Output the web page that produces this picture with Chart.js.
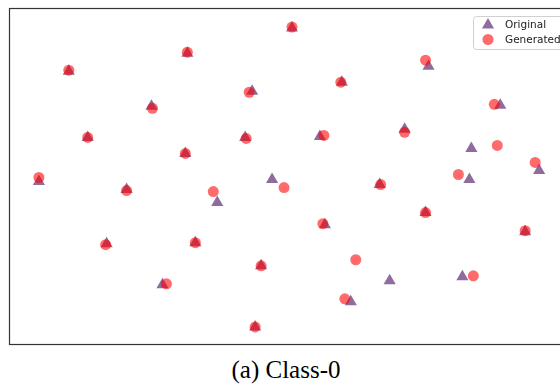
<!DOCTYPE html>
<html>
<head>
<meta charset="utf-8">
<script src="https://cdn.jsdelivr.net/npm/chart.js@4.4.0/dist/chart.umd.min.js"></script>
<style>
  html, body { margin: 0; padding: 0; background: #fff; overflow: hidden; }
  #wrap { position: absolute; left: 0; top: 0; width: 580px; height: 351px; }
  #caption {
    position: absolute; left: 0; top: 356px; width: 572px; text-align: center;
    font-family: "Liberation Serif", "Times New Roman", serif; font-size: 25px; color: #000;
  }
</style>
</head>
<body>
<div id="wrap"><canvas id="scatterChart"></canvas></div>
<div id="caption">(a) Class-0</div>
<script>
// embedding coordinates (x to the right, y downwards)
var originalX = [293, 188, 69, 430, 343, 253, 152, 502, 88, 246, 321, 406, 186, 473, 39, 273,
                 127, 218, 381, 471, 541, 427, 326, 107, 196, 527, 391, 262, 464, 163, 352, 256];
var originalY = [28, 53, 71, 66, 82, 91, 106, 105, 137, 137, 136, 129, 153, 148, 181, 179,
                 189, 202, 184, 179, 170, 212, 224, 243, 242, 231, 280, 265, 276, 284, 301, 326];
var generatedX = [293, 188, 69, 427, 342, 250, 153, 496, 88, 247, 325, 406, 186, 499, 39, 285,
                  127, 214, 382, 460, 537, 427, 324, 106, 196, 527, 357, 262, 475, 167, 346, 256];
var generatedY = [27, 52, 70, 60, 82, 92, 108, 104, 137, 138, 135, 132, 153, 145, 177, 187,
                  190, 191, 184, 174, 162, 212, 223, 244, 242, 230, 259, 265, 275, 283, 298, 326];
var seriesLabels = ['Original', 'Generated'];

function toPoints(xs, ys) {
  return xs.map(function (x, i) { return { x: x, y: ys[i] }; });
}

// box around the plot area
var frame = {
  id: 'frame',
  afterDatasetsDraw: function (chart) {
    var a = chart.chartArea, ctx = chart.ctx;
    ctx.save();
    ctx.strokeStyle = '#333';
    ctx.lineWidth = 1.2;
    ctx.strokeRect(a.left + 0.5, a.top + 0.5, a.right - a.left, a.bottom - a.top);
    ctx.restore();
  }
};

// legend in the upper right corner, matplotlib style
var cornerLegend = {
  id: 'cornerLegend',
  afterDraw: function (chart) {
    var ctx = chart.ctx;
    var x = 473.5, y = 16.5, w = 100, h = 33;
    ctx.save();
    ctx.fillStyle = 'rgba(255,255,255,0.85)';
    ctx.strokeStyle = '#d0d0d0';
    ctx.lineWidth = 1;
    ctx.beginPath();
    ctx.roundRect(x, y, w, h, 3);
    ctx.fill();
    ctx.stroke();
    var rows = [chart.data.datasets[1], chart.data.datasets[0]];
    rows.forEach(function (ds, i) {
      var cy = 25 + i * 14.5;
      ctx.fillStyle = ds.backgroundColor;
      ctx.strokeStyle = ds.borderColor;
      Chart.helpers.drawPoint(ctx, {
        pointStyle: ds.pointStyle, radius: ds.pointRadius, rotation: 0, borderWidth: 0
      }, 488, cy);
      ctx.fillStyle = '#222';
      ctx.font = '10.5px "DejaVu Sans", sans-serif';
      ctx.textBaseline = 'middle';
      ctx.fillText(ds.label, 505, cy + 0.5);
    });
    ctx.restore();
  }
};

var ctx = document.getElementById('scatterChart').getContext('2d');
var chart = new Chart(ctx, {
  type: 'scatter',
  data: {
    datasets: [{
      label: seriesLabels[1],
      data: toPoints(generatedX, generatedY),
      pointStyle: 'circle',
      pointRadius: 5.5,
      borderWidth: 0,
      backgroundColor: 'rgba(255,0,0,0.58)',
      borderColor: 'rgba(255,0,0,0.58)',
      order: 0
    }, {
      label: seriesLabels[0],
      data: toPoints(originalX, originalY),
      pointStyle: 'triangle',
      pointRadius: 7,
      borderWidth: 0,
      backgroundColor: 'rgba(95,45,115,0.7)',
      borderColor: 'rgba(95,45,115,0.7)',
      order: 1
    }]
  },
  options: {
    responsive: true,
    maintainAspectRatio: false,
    animation: false,
    layout: { padding: { left: 9, top: 8, right: 2, bottom: 7 } },
    plugins: {
      legend: { display: false },
      tooltip: { enabled: false }
    },
    scales: {
      x: { type: 'linear', display: false, min: 9, max: 575 },
      y: { type: 'linear', display: false, reverse: true, min: 8, max: 343 }
    }
  },
  plugins: [frame, cornerLegend]
});
</script>
</body>
</html>
